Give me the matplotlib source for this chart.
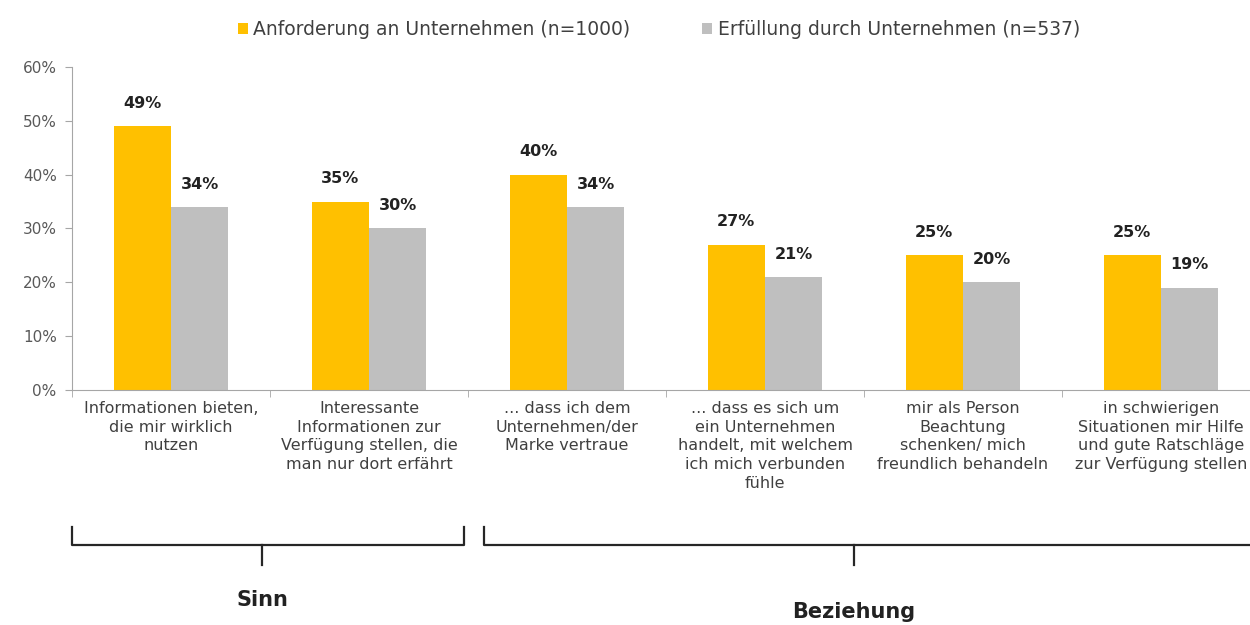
import matplotlib.pyplot as plt
import matplotlib.transforms as mtransforms
import numpy as np

# -------------------- Data --------------------
CATEGORIES = [
    "Informationen bieten,\ndie mir wirklich\nnutzen",
    "Interessante\nInformationen zur\nVerfügung stellen, die\nman nur dort erfährt",
    "... dass ich dem\nUnternehmen/der\nMarke vertraue",
    "... dass es sich um\nein Unternehmen\nhandelt, mit welchem\nich mich verbunden\nfühle",
    "mir als Person\nBeachtung\nschenken/ mich\nfreundlich behandeln",
    "in schwierigen\nSituationen mir Hilfe\nund gute Ratschläge\nzur Verfügung stellen",
]
ANFORDERUNG = [49, 35, 40, 27, 25, 25]
ERFUELLUNG = [34, 30, 34, 21, 20, 19]
SERIES_LABELS = ["Anforderung an Unternehmen (n=1000)", "Erfüllung durch Unternehmen (n=537)"]
GROUPS = ["Sinn", "Beziehung"]
Y_TICKS = [0, 10, 20, 30, 40, 50, 60]
# ----------------------------------------------

ORANGE = '#FFC000'
GRAY = '#BFBFBF'
TEXT = '#404040'
FONT = ['DejaVu Sans']

plt.rcParams['font.family'] = FONT

fig = plt.figure(figsize=(12.5, 6.25), dpi=100)
ax = fig.add_axes([0.0576, 0.376, 0.9504, 0.517])

x = np.arange(len(CATEGORIES))
w = 0.29
b1 = ax.bar(x - w / 2, ANFORDERUNG, w, color=ORANGE, label=SERIES_LABELS[0])
b2 = ax.bar(x + w / 2, ERFUELLUNG, w, color=GRAY, label=SERIES_LABELS[1])

for bars, vals in ((b1, ANFORDERUNG), (b2, ERFUELLUNG)):
    for rect, v in zip(bars, vals):
        ax.annotate(f"{v}%", (rect.get_x() + rect.get_width() / 2, v),
                    xytext=(0, 11), textcoords='offset points',
                    ha='center', va='bottom', fontsize=11.5, fontweight='bold',
                    color='#222222')

ax.set_xlim(-0.5, len(CATEGORIES) - 0.5)
ax.set_ylim(0, 60)
ax.set_yticks(Y_TICKS)
ax.set_yticklabels([f"{t}%" for t in Y_TICKS], color='#595959', fontsize=11)

ax.set_xticks(x)
ax.set_xticklabels(CATEGORIES, fontsize=11.5, color=TEXT, linespacing=1.3)
ax.tick_params(axis='x', length=0, pad=8)
ax.set_xticks(np.arange(len(CATEGORIES) + 1) - 0.5, minor=True)
ax.tick_params(axis='x', which='minor', length=5, color='#A6A6A6', direction='out')
ax.tick_params(axis='y', length=5, color='#A6A6A6', direction='out', pad=6)

for side in ('top', 'right'):
    ax.spines[side].set_visible(False)
ax.spines['left'].set_color('#A6A6A6')
ax.spines['bottom'].set_color('#A6A6A6')

# legend
fig.legend(loc='upper center', bbox_to_anchor=(0.527, 0.995), ncol=2, frameon=False,
           fontsize=13.5, handlelength=0.55, handleheight=0.55, handletextpad=0.3,
           columnspacing=3.8, labelcolor=TEXT)

# group brackets (x in data, y in figure coords)
trans = mtransforms.blended_transform_factory(ax.transData, fig.transFigure)
y_top, y_line, y_stub = 0.157, 0.128, 0.096
brackets = [(-0.5, 1.48, 0.46, 0.04), (1.58, 6.2, 3.45, 0.02)]
for (x0, x1, xc, yt), name in zip(brackets, GROUPS):
    ax.plot([x0, x0, x1, x1], [y_top, y_line, y_line, y_top], transform=trans,
            color='#262626', lw=1.6, clip_on=False, solid_joinstyle='round')
    ax.plot([xc, xc], [y_line, y_stub], transform=trans, color='#262626', lw=1.6, clip_on=False)
    ax.text(xc, yt, name, transform=trans, ha='center', va='center',
            fontsize=15, fontweight='bold', color='#222222')

fig.savefig('out.png', dpi=100)
